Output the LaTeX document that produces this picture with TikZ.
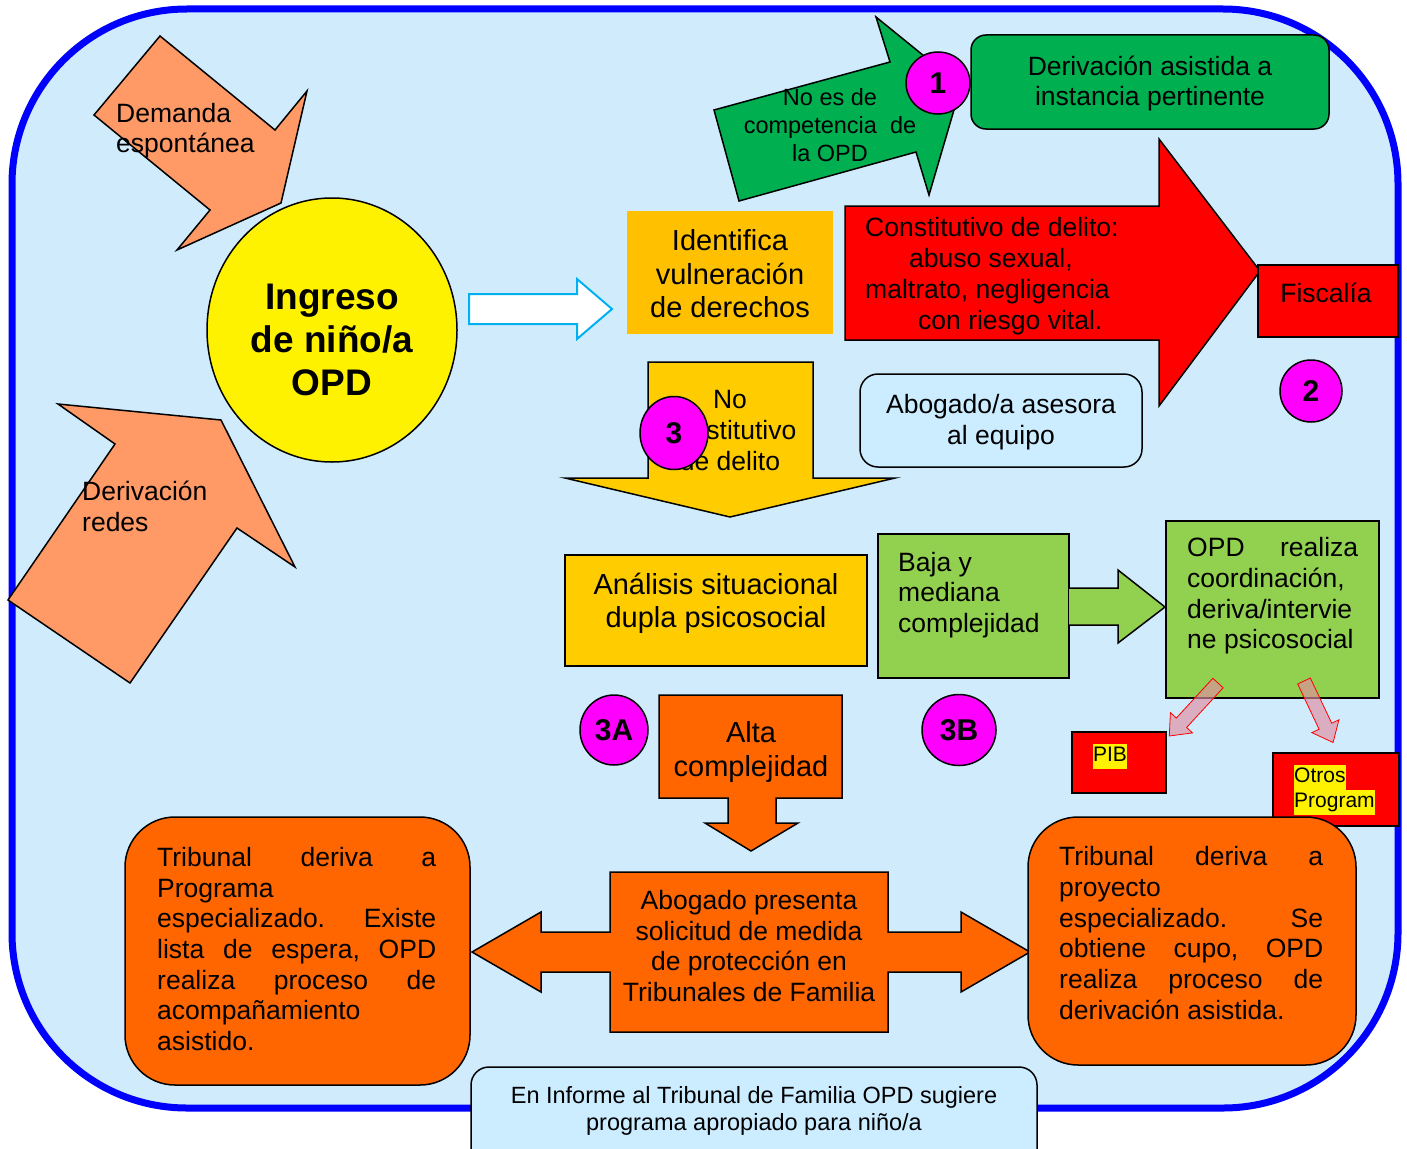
\documentclass[tikz,border=0pt]{standalone}
\usepackage{fontspec}
\setmainfont{Liberation Sans}
\usetikzlibrary{shapes.geometric}
\definecolor{bgblue}{RGB}{208,236,252}
\definecolor{boxblue}{RGB}{204,236,255}
\definecolor{frameblue}{RGB}{0,0,255}
\definecolor{salmon}{RGB}{255,153,102}
\definecolor{gold}{RGB}{255,192,0}
\definecolor{ylw}{RGB}{255,204,0}
\definecolor{dgreen}{RGB}{0,176,80}
\definecolor{lgreen}{RGB}{146,208,80}
\definecolor{orng}{RGB}{255,102,0}
\definecolor{mag}{RGB}{255,0,255}
\definecolor{cyanline}{RGB}{0,176,240}
\definecolor{pinkfill}{RGB}{225,140,160}
\newcommand{\fsz}[2]{\fontsize{#1}{#2}\selectfont}
\newcommand{\hl}[1]{{\setlength{\fboxsep}{0pt}\colorbox{yellow}{\strut #1}}}
\tikzset{
  blk/.style={draw=black, line width=1.5pt, line join=miter},
  txt/.style={inner sep=0pt, align=center, font=\fsz{26.5}{31}},
  txtl/.style={inner sep=0pt, align=left, anchor=west, font=\fsz{26.5}{30.7}},
  num/.style={ellipse, draw=black, line width=1.5pt, fill=mag, inner sep=0pt, font=\bfseries\fsz{30}{34}},
  pinkarrow/.style={draw=red, line width=0.8pt, fill=pinkfill, fill opacity=0.65},
}
\begin{document}
\begin{tikzpicture}[x=1pt,y=-1pt]
\useasboundingbox (0,0) rectangle (1407,1148);
% frame
\draw[frameblue, line width=7pt, fill=bgblue, rounded corners=175pt] (12,9) rectangle (1398,1108);

% entry arrows
\draw[blk, fill=salmon] (160,36) -- (275,130) -- (307,91) -- (281,203) -- (177,250) -- (210,210) -- (94,115) -- cycle;
\node[txtl, font=\fsz{26.5}{30}] (demanda) at (116,131) {Demanda\\espontánea};
\draw[blk, fill=salmon] (58,404) -- (221,420) -- (295,567) -- (237,528) -- (130,683) -- (8,600) -- (115,444) -- cycle;
\node[txtl, font=\fsz{26.5}{31}] (redes) at (82,506) {Derivación\\redes};

% ingreso
\node[ellipse, draw=black, line width=1.5pt, fill=yellow, minimum width=250pt, minimum height=264pt, inner sep=0pt] (ingreso) at (332,330) {};
\node[txt, font=\bfseries\fsz{37}{43}] (ingresot) at (332,340) {Ingreso\\de niño/a\\OPD};

% white arrow
\draw[cyanline, line width=2pt, fill=white, line join=miter] (469,294) -- (577,294) -- (577,279) -- (612,309) -- (577,339) -- (577,324) -- (469,324) -- cycle;

% identifica
\fill[gold] (627,211) rectangle (833,334);
\node[txt, font=\fsz{29}{33.5}] (identifica) at (730,274) {Identifica\\vulneración\\de derechos};

% green arrow no es de competencia
\draw[blk, fill=dgreen] (714,110) -- (890,62) -- (876,17) -- (961,86) -- (929,195) -- (916,152) -- (739,201) -- cycle;
\node[txt, font=\fsz{23.5}{28}] (nocomp) at (830,125) {No es de\\competencia\ \ de\\la OPD};
\node[num, minimum width=64pt, minimum height=62pt] (n1) at (938,83) {1};
\draw[blk, fill=dgreen, rounded corners=15pt] (971,35) rectangle (1329,129);
\node[txt, font=\fsz{26.5}{30}] (derasist) at (1150,83) {Derivación asistida a\\instancia pertinente};

% red arrow
\draw[blk, fill=red] (845,206) -- (1159,206) -- (1159,139) -- (1260,271) -- (1159,406) -- (1159,340) -- (845,340) -- cycle;
\node[txtl, font=\fsz{26.5}{31}] (delito) at (865,276) {Constitutivo de delito:\\\hspace*{44pt}abuso sexual,\\maltrato, negligencia\\\hspace*{53pt}con riesgo vital.};
\draw[blk, fill=red] (1258,265) rectangle (1398,337);
\node[txt] (fiscalia) at (1326,293) {Fiscalía};
\node[num, minimum width=62pt, minimum height=62pt] (n2) at (1311,391) {2};

% abogado asesora
\draw[blk, fill=boxblue, rounded corners=18pt] (860,374) rectangle (1142,467);
\node[txt] (asesora) at (1001,422) {Abogado/a asesora\\al equipo};

% yellow down arrow
\draw[blk, fill=ylw] (648,362) -- (813,362) -- (813,478) -- (895,478) -- (730,517) -- (565,478) -- (648,478) -- cycle;
\node[txt] (nodelito) at (730,431) {No\\constitutivo\\de delito};
\node[num, minimum width=68pt, minimum height=73pt] (n3) at (674,433) {3};

% analisis
\draw[blk, fill=ylw] (565,555) rectangle (867,666);
\node[txt, font=\fsz{29}{33}] (analisis) at (716,603) {Análisis situacional\\dupla psicosocial};

% baja y mediana
\draw[blk, fill=lgreen] (878,534) rectangle (1069,678);
\node[txtl] (baja) at (898,595) {Baja y\\mediana\\complejidad};
\filldraw[blk, fill=lgreen] (1069,588) -- (1118,588) -- (1118,570) -- (1165,607) -- (1118,643) -- (1118,625) -- (1069,625);

% OPD realiza
\draw[blk, fill=lgreen] (1166,521) rectangle (1379,698);
\node[txtl] (opdrealiza) at (1187,596) {\makebox[171pt][s]{OPD\hfill realiza}\\coordinación,\\deriva/intervie\\ne psicosocial};

% PIB and Otros
\draw[blk, fill=red] (1072,732) rectangle (1166,793);
\node[inner sep=0pt, font=\fsz{21}{25}] (pib) at (1110,756) {\hl{PIB}};
\draw[blk, fill=red] (1273,753) rectangle (1399,826);
\node[inner sep=0pt, align=left, anchor=west, font=\fsz{21}{25}] (otros) at (1294,790) {\hl{Otros}\\\hl{Program}};

% pink arrows
\begin{scope}[shift={(1218,683)}, rotate=227.4]
\draw[pinkarrow] (0,-7) -- (54,-7) -- (54,-15) -- (72,0) -- (54,15) -- (54,7) -- (0,7) -- cycle;
\end{scope}
\begin{scope}[shift={(1304,681)}, rotate=-64.7]
\draw[pinkarrow] (0,-7) -- (50,-7) -- (50,-15) -- (68,0) -- (50,15) -- (50,7) -- (0,7) -- cycle;
\end{scope}

% 3A 3B
\node[num, minimum width=68pt, minimum height=70pt] (n3a) at (614,730) {3A};
\node[num, minimum width=74pt, minimum height=71pt] (n3b) at (959,730) {3B};

% alta complejidad
\draw[blk, fill=orng] (659,695) -- (842,695) -- (842,798) -- (776,798) -- (776,823) -- (798,823) -- (751,851) -- (705,823) -- (728,823) -- (728,798) -- (659,798) -- cycle;
\node[txt, font=\fsz{29}{34}] (alta) at (751,752) {Alta\\complejidad};

% abogado presenta
\draw[blk, fill=orng] (610,872) -- (888,872) -- (888,932) -- (961,932) -- (961,912) -- (1030,952) -- (961,992) -- (961,972) -- (888,972) -- (888,1032) -- (610,1032) -- (610,972) -- (541,972) -- (541,992) -- (472,952) -- (541,912) -- (541,932) -- (610,932) -- cycle;
\node[txt, font=\fsz{26.5}{30.7}] (presenta) at (749,946) {Abogado presenta\\solicitud de medida\\de protección en\\Tribunales de Familia};

% tribunal boxes
\draw[blk, fill=orng, rounded corners=50pt] (125,817) rectangle (470,1085);
\node[txtl] (tribizq) at (157,949) {\makebox[279pt][s]{Tribunal\hfill deriva\hfill a}\\Programa\\\makebox[279pt][s]{especializado.\hfill Existe}\\\makebox[279pt][s]{lista\hfill de\hfill espera,\hfill OPD}\\\makebox[279pt][s]{realiza\hfill proceso\hfill de}\\acompañamiento\\asistido.};
\draw[blk, fill=orng, rounded corners=50pt] (1028,817) rectangle (1356,1065);
\node[txtl] (tribder) at (1059,933) {\makebox[264pt][s]{Tribunal\hfill deriva\hfill a}\\proyecto\\\makebox[264pt][s]{especializado.\hfill Se}\\\makebox[264pt][s]{obtiene\hfill cupo,\hfill OPD}\\\makebox[264pt][s]{realiza\hfill proceso\hfill de}\\derivación asistida.};

% bottom box
\draw[blk, fill=boxblue, rounded corners=18pt] (471,1067) rectangle (1037,1170);
\node[txt, font=\fsz{23.5}{27}] (informe) at (754,1111) {En Informe al Tribunal de Familia OPD sugiere\\programa apropiado para niño/a};
\end{tikzpicture}
\end{document}
